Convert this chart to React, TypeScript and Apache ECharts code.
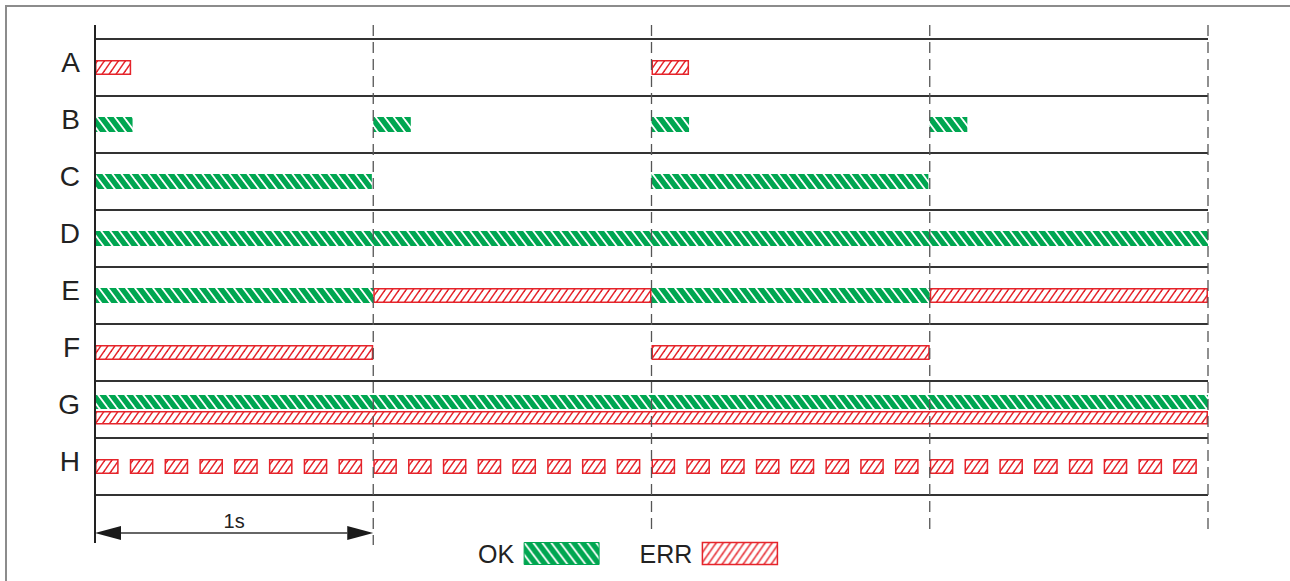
import React, { useEffect, useRef } from 'react';
import * as echarts from 'echarts';

// ---------- data ----------
const rows = ['A', 'B', 'C', 'D', 'E', 'F', 'G', 'H'];
const seconds = [0, 1, 2, 3, 4];
// [row, start (s), end (s)]
const okBars: [string, number, number][] = [
  ['B', 0, 0.135], ['B', 1, 1.135], ['B', 2, 2.135], ['B', 3, 3.135],
  ['C', 0, 0.995], ['C', 2, 2.995],
  ['D', 0, 4],
  ['E', 0, 1], ['E', 2, 3],
];
const okUpperBars: [string, number, number][] = [['G', 0, 4]];
const errBars: [string, number, number][] = [
  ['A', 0, 0.13], ['A', 2, 2.135],
  ['E', 1, 2], ['E', 3, 4],
  ['F', 0, 1], ['F', 2, 3],
];
const errLowerBars: [string, number, number][] = [['G', 0, 4]];
const hPulseRow = 'H';
const hPulseStarts = [
  0, 0.125, 0.25, 0.375, 0.5, 0.625, 0.75, 0.875,
  1, 1.125, 1.25, 1.375, 1.5, 1.625, 1.75, 1.875,
  2, 2.125, 2.25, 2.375, 2.5, 2.625, 2.75, 2.875,
  3, 3.125, 3.25, 3.375, 3.5, 3.625, 3.75, 3.875,
];
const hPulseWidth = 0.085;
const scaleSpan: [number, number] = [0, 1];
const scaleLabel = '1s';
const legendNames = ['OK', 'ERR'];

// ---------- styles ----------
const FONT = "'Liberation Sans', Arial, Helvetica, sans-serif";
const GREEN = '#00a651';
const RED = '#e5242b';

function makeStripe(w: number, h: number, bg: string, fg: string, lw: number, dir: 'back' | 'fwd') {
  const c = document.createElement('canvas');
  c.width = w;
  c.height = h;
  const ctx = c.getContext('2d')!;
  ctx.fillStyle = bg;
  ctx.fillRect(0, 0, w, h);
  ctx.strokeStyle = fg;
  ctx.lineWidth = lw;
  for (const k of [-w, 0, w]) {
    ctx.beginPath();
    if (dir === 'back') {
      ctx.moveTo(k - w * 0.5, -h * 0.5);
      ctx.lineTo(k + w * 1.5, h * 1.5);
    } else {
      ctx.moveTo(k + w * 1.5, -h * 0.5);
      ctx.lineTo(k - w * 0.5, h * 1.5);
    }
    ctx.stroke();
  }
  return { image: c.toDataURL(), repeat: 'repeat', imageWidth: w, imageHeight: h } as any;
}

export default function App() {
  const ref = useRef<HTMLDivElement>(null);

  useEffect(() => {
    if (!ref.current) return;
    const chart = echarts.init(ref.current, undefined, { renderer: 'svg' });

    const greenPattern = makeStripe(9, 12, GREEN, '#ffffff', 1.8, 'back');
    const redPattern = makeStripe(7, 10, '#ffffff', RED, 1.5, 'fwd');

    const toItem = (b: [string, number, number], lane: number) => [rows.indexOf(b[0]), b[1], b[2], lane];
    const okData = [...okBars.map((b) => toItem(b, 0)), ...okUpperBars.map((b) => toItem(b, 1))];
    const errData = [
      ...errBars.map((b) => toItem(b, 0)),
      ...errLowerBars.map((b) => toItem(b, 2)),
      ...hPulseStarts.map((s) => toItem([hPulseRow, s, s + hPulseWidth], 0)),
    ];

    const barRender = (fill: any, stroke: string | null, lw: number) => (params: any, api: any) => {
      const row = api.value(0);
      const s = api.value(1);
      const e = api.value(2);
      const lane = api.value(3);
      const p0 = api.coord([s, row]);
      const p1 = api.coord([e, row]);
      const c = p0[1];
      let y = c - 7.5;
      let h = 15;
      if (lane === 1) { y = c - 14.5; h = 14; }
      if (lane === 2) { y = c + 1.5; h = 13.5; }
      const inset = stroke ? lw / 2 : 0;
      return {
        type: 'rect',
        shape: { x: p0[0] + inset, y: y + inset, width: p1[0] - p0[0] - 2 * inset, height: h - 2 * inset },
        style: { fill, stroke: stroke || undefined, lineWidth: stroke ? lw : 0 },
      };
    };

    const option: any = {
      animation: false,
      backgroundColor: '#ffffff',
      textStyle: { fontFamily: FONT },
      graphic: [
        {
          type: 'rect',
          shape: { x: 6, y: 6, width: 1310, height: 610 },
          style: { fill: 'none', stroke: '#8c8c8c', lineWidth: 2 },
          silent: true,
        },
      ],
      grid: { left: 95, right: 82, top: 39, height: 456 },
      xAxis: {
        type: 'value',
        min: 0,
        max: 4,
        interval: 1,
        axisLine: { show: false },
        axisTick: { show: false },
        axisLabel: { show: false },
        splitLine: { show: false },
      },
      yAxis: {
        type: 'category',
        data: rows,
        inverse: true,
        axisLine: { show: false },
        axisTick: { show: false },
        axisLabel: {
          fontSize: 28,
          color: '#222',
          margin: 15,
          fontFamily: FONT,
          verticalAlign: 'bottom',
          lineHeight: 11,
        },
        splitLine: { show: true, lineStyle: { color: '#333', width: 2 } },
      },
      legend: {
        data: [
          { name: legendNames[0], icon: 'rect', itemStyle: { color: greenPattern, borderColor: GREEN, borderWidth: 1 } },
          { name: legendNames[1], icon: 'rect', itemStyle: { color: redPattern, borderColor: RED, borderWidth: 1.5 } },
        ],
        left: 478,
        top: 541,
        padding: 0,
        align: 'right',
        itemWidth: 75,
        itemHeight: 22,
        itemGap: 40,
        selectedMode: false,
        textStyle: { fontSize: 25, color: '#222', fontFamily: FONT, padding: [0, 5, 0, 0] },
      },
      series: [
        {
          name: legendNames[0],
          type: 'custom',
          z: 2,
          encode: { x: [1, 2], y: 0 },
          itemStyle: { color: GREEN },
          renderItem: barRender(greenPattern, null, 0),
          data: okData,
        },
        {
          name: legendNames[1],
          type: 'custom',
          z: 2,
          encode: { x: [1, 2], y: 0 },
          itemStyle: { color: RED },
          renderItem: barRender(redPattern, RED, 1.5),
          data: errData,
        },
        {
          name: 'time-marks',
          type: 'custom',
          z: 5,
          silent: true,
          encode: { x: 0, y: 1 },
          renderItem: (params: any, api: any) => {
            const t = api.value(0);
            const x = api.coord([t, 0])[0];
            const cs = params.coordSys;
            const top = cs.y - 14;
            const bottom = cs.y + cs.height;
            if (t === 0) {
              return {
                type: 'line',
                shape: { x1: x, y1: top, x2: x, y2: bottom + 48 },
                style: { stroke: '#222', lineWidth: 2 },
              };
            }
            return {
              type: 'line',
              shape: { x1: x, y1: top, x2: x, y2: bottom + (t === 1 ? 50 : 34) },
              style: { stroke: '#555', lineWidth: 1.3, lineDash: [11, 6] },
            };
          },
          data: seconds.map((t) => [t, 0]),
        },
        {
          name: 'scale',
          type: 'custom',
          z: 5,
          silent: true,
          encode: { x: [0, 1] },
          renderItem: (params: any, api: any) => {
            const x0 = api.coord([api.value(0), 0])[0];
            const x1 = api.coord([api.value(1), 0])[0];
            const cs = params.coordSys;
            const y = cs.y + cs.height + 38;
            const head = 26;
            const hw = 7;
            return {
              type: 'group',
              children: [
                { type: 'line', shape: { x1: x0 + head, y1: y, x2: x1 - head, y2: y }, style: { stroke: '#333', lineWidth: 1.5 } },
                { type: 'polygon', shape: { points: [[x0, y], [x0 + head, y - hw], [x0 + head, y + hw]] }, style: { fill: '#1a1a1a' } },
                { type: 'polygon', shape: { points: [[x1, y], [x1 - head, y - hw], [x1 - head, y + hw]] }, style: { fill: '#1a1a1a' } },
                {
                  type: 'text',
                  style: {
                    text: scaleLabel,
                    x: (x0 + x1) / 2,
                    y: y - 12,
                    align: 'center',
                    verticalAlign: 'middle',
                    fontSize: 20,
                    fontFamily: FONT,
                    fill: '#222',
                  },
                },
              ],
            };
          },
          data: [scaleSpan],
        },
      ],
    };

    chart.setOption(option);
    return () => chart.dispose();
  }, []);

  return <div ref={ref} style={{ position: 'fixed', left: 0, top: 0, width: 1290, height: 581 }} />;
}
